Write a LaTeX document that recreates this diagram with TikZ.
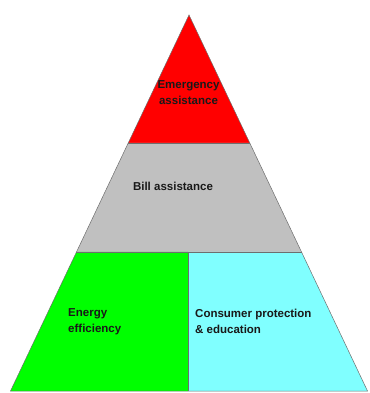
\documentclass[tikz,border=0pt]{standalone}
\usepackage{fontspec}
\setmainfont{Liberation Sans}
\usetikzlibrary{calc}
\definecolor{layerred}{RGB}{255,0,0}
\definecolor{layergray}{RGB}{192,192,192}
\definecolor{layergreen}{RGB}{0,255,0}
\definecolor{layercyan}{RGB}{128,255,255}
\definecolor{edgegray}{RGB}{110,110,110}
\tikzset{
  layer/.style={draw=edgegray, line width=0.5pt, line join=miter},
  lbl/.style={inner sep=0pt, font=\fontsize{11.5}{16.5}\selectfont\bfseries, text=black!90},
}
\begin{document}
\begin{tikzpicture}[x=1pt,y=-1pt]
\useasboundingbox (0,0) rectangle (369,393);
\coordinate (A) at (189,15);
\coordinate (BL) at (10.5,391);
\coordinate (BR) at (367.5,391);
\coordinate (L1) at ($(A)!0.3404!(BL)$);
\coordinate (R1) at ($(A)!0.3404!(BR)$);
\coordinate (L2) at ($(A)!0.6303!(BL)$);
\coordinate (R2) at ($(A)!0.6303!(BR)$);
\path let \p1=(L2) in coordinate (MT) at (188pt,\y1);
\path let \p1=(BL) in coordinate (MB) at (188pt,\y1);
% layers
\fill[layerred] (A) -- (L1) -- (R1) -- cycle;
\fill[layergray] (L1) -- (L2) -- (R2) -- (R1) -- cycle;
\fill[layergreen] (L2) -- (BL) -- (MB) -- (MT) -- cycle;
\fill[layercyan] (MT) -- (MB) -- (BR) -- (R2) -- cycle;
\draw[layer] (A) -- (BL) -- (BR) -- cycle;
\draw[layer] (L1) -- (R1);
\draw[layer] (L2) -- (R2);
\draw[layer] (MT) -- (MB);
% labels (base anchor = baseline of last line)
\node[lbl, anchor=base, align=center] (emer) at (188.5,104.5) {Emergency\\assistance};
\node[lbl, anchor=base] (bill) at (173,190) {Bill assistance};
\node[lbl, anchor=base west, align=left] (energy) at (68,332.5) {Energy\\efficiency};
\node[lbl, anchor=base west, align=left] (consumer) at (195,333.5) {Consumer protection\\\& education};
\end{tikzpicture}
\end{document}
